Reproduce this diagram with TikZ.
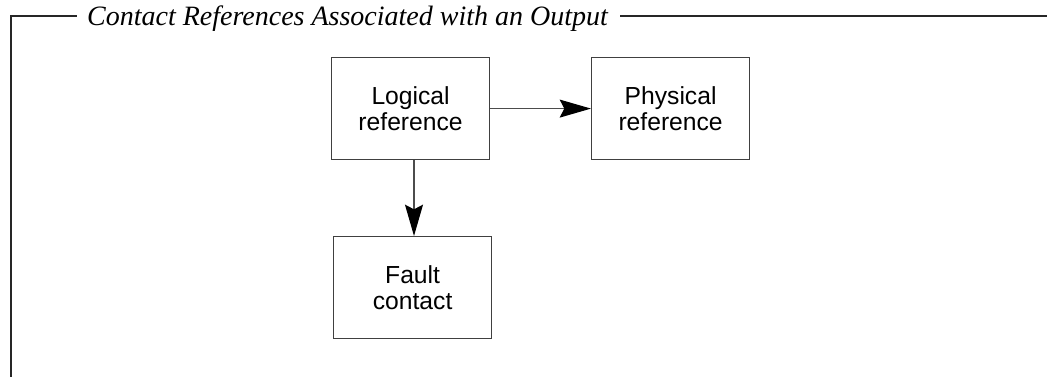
\documentclass[tikz,border=0pt]{standalone}
\usepackage{fontspec}
\setmainfont{Liberation Serif}
\newfontfamily\boxfont{Liberation Sans}
\usetikzlibrary{arrows.meta}
\begin{document}
\begin{tikzpicture}[x=0.75pt,y=-0.75pt,
  frameline/.style={line width=1.5pt,draw=black!85},
  box/.style={draw=black!75,line width=0.9pt,minimum width=118.5pt,minimum height=76.5pt,inner sep=0pt,
    font=\boxfont\fontsize{18.5}{19.5}\selectfont,align=center,anchor=north west},
  conn/.style={draw=black!70,line width=0.9pt,-{Stealth[length=23.5pt,width=13.5pt,inset=3.5pt,black]}}]
\useasboundingbox (0,0) rectangle (1047,377);
\node[font=\itshape\fontsize{21}{25}\selectfont,inner sep=0pt,anchor=base] (title) at (347.5,26) {Contact References Associated with an Output};
\coordinate (tl) at (11,16.5);
\coordinate (bl) at (11,377);
\coordinate (t1) at (77,16.5);
\coordinate (t2) at (620,16.5);
\coordinate (tr) at (1047,16.5);
\draw[frameline] (bl) -- (tl) -- (t1);
\draw[frameline] (t2) -- (tr);
\node[box] (logical) at (331,57) {Logical\\reference};
\node[box] (physical) at (591,57) {Physical\\reference};
\node[box] (fault) at (333,236) {Fault\\contact};
\draw[conn] (logical.east) -- (physical.west);
\draw[conn] (logical.south -| 414,0) -- (fault.north -| 414,0);
\end{tikzpicture}
\end{document}
